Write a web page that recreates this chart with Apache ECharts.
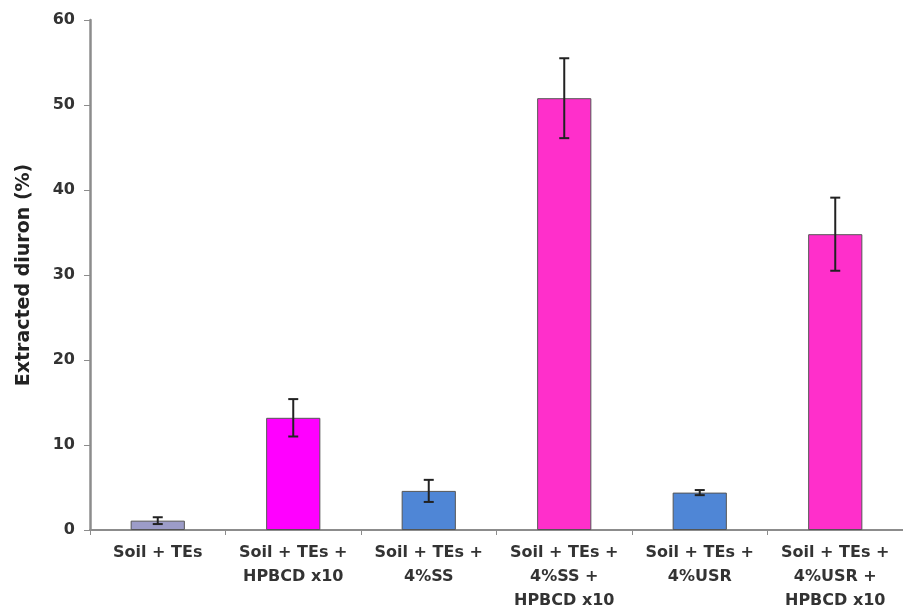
<!DOCTYPE html>
<html>
<head>
<meta charset="utf-8">
<script src="https://cdn.jsdelivr.net/npm/echarts@6/dist/echarts.min.js"></script>
<style>
  html, body { margin: 0; padding: 0; background: #fff; }
  #chart { width: 903px; height: 615px; }
</style>
</head>
<body>
<div id="chart"></div>
<script>
// Treatments on the x axis
const categories = [
  'Soil + TEs',
  'Soil + TEs +\nHPBCD x10',
  'Soil + TEs +\n4%SS',
  'Soil + TEs +\n4%SS +\nHPBCD x10',
  'Soil + TEs +\n4%USR',
  'Soil + TEs +\n4%USR +\nHPBCD x10'
];
// Mean extracted diuron (%) and standard deviation
const meanValues = [1.1, 13.2, 4.6, 50.8, 4.4, 34.8];
const errorValues = [0.4, 2.2, 1.3, 4.7, 0.3, 4.3];
const barColors = ['#9c9cc8', '#ff00ff', '#4f86d6', '#ff2fcb', '#4f86d6', '#ff2fcb'];
const yTicks = [0, 10, 20, 30, 40, 50, 60];

const FONT = 'DejaVu Sans, Liberation Sans, Arial, sans-serif';

const chart = echarts.init(document.getElementById('chart'), null, { renderer: 'canvas' });

const errorData = meanValues.map((v, i) => [i, v - errorValues[i], v + errorValues[i]]);

chart.setOption({
  animation: false,
  backgroundColor: '#fff',
  grid: { left: 90, right: 0, top: 20, bottom: 85 },
  xAxis: {
    type: 'category',
    data: categories,
    axisLine: { lineStyle: { color: '#8c8c8c', width: 2 } },
    axisTick: { show: true, alignWithLabel: false, length: 5, lineStyle: { color: '#8c8c8c', width: 1 } },
    axisLabel: {
      interval: 0,
      color: '#333',
      fontFamily: FONT,
      fontWeight: 'bold',
      fontSize: 16,
      lineHeight: 24,
      margin: 11
    }
  },
  yAxis: {
    type: 'value',
    min: yTicks[0],
    max: yTicks[yTicks.length - 1],
    interval: 10,
    name: 'Extracted diuron (%)',
    nameLocation: 'middle',
    nameGap: 56,
    nameTextStyle: {
      color: '#222',
      fontFamily: FONT,
      fontWeight: 'bold',
      fontSize: 19
    },
    axisLine: { show: true, lineStyle: { color: '#8c8c8c', width: 2.5 } },
    axisTick: { show: true, length: 6, lineStyle: { color: '#8c8c8c', width: 1 } },
    splitLine: { show: false },
    axisLabel: {
      color: '#333',
      fontFamily: FONT,
      fontWeight: 'bold',
      fontSize: 16,
      margin: 15
    }
  },
  series: [
    {
      type: 'bar',
      barWidth: '40%',
      data: meanValues.map((v, i) => ({
        value: v,
        itemStyle: { color: barColors[i], borderColor: '#555', borderWidth: 1 }
      })),
      z: 2
    },
    {
      type: 'custom',
      z: 3,
      data: errorData,
      renderItem: function (params, api) {
        const x = api.value(0);
        const lo = api.coord([x, api.value(1)]);
        const hi = api.coord([x, api.value(2)]);
        const half = 5;
        const style = { stroke: '#222', lineWidth: 2 };
        return {
          type: 'group',
          children: [
            { type: 'line', shape: { x1: hi[0], y1: hi[1], x2: lo[0], y2: lo[1] }, style: style },
            { type: 'line', shape: { x1: hi[0] - half, y1: hi[1], x2: hi[0] + half, y2: hi[1] }, style: style },
            { type: 'line', shape: { x1: lo[0] - half, y1: lo[1], x2: lo[0] + half, y2: lo[1] }, style: style }
          ]
        };
      }
    }
  ]
});
</script>
</body>
</html>
